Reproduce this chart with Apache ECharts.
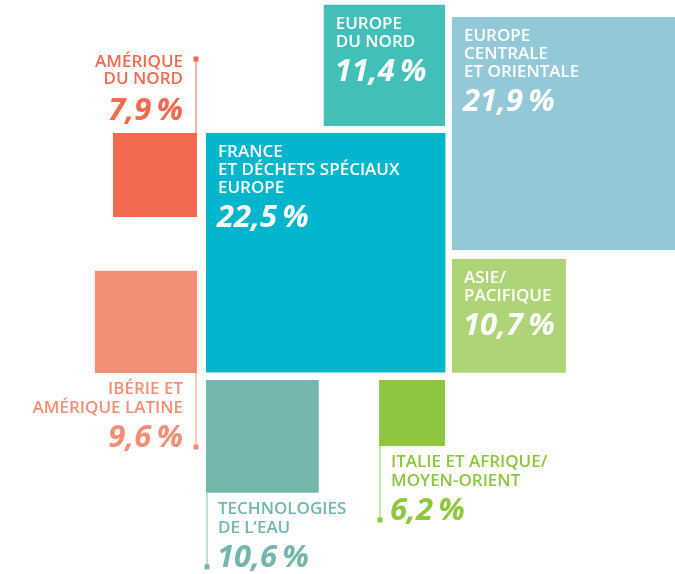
<!DOCTYPE html>
<html>
<head>
<meta charset="utf-8">
<script src="https://cdn.jsdelivr.net/npm/echarts@6/dist/echarts.min.js"></script>
<style>
  html, body { margin: 0; padding: 0; background: #fff; }
  #main { width: 675px; height: 574px; }
</style>
</head>
<body>
<div id="main"></div>
<script>
// activity shares (%) by region
var regions = [
  'FRANCE\nET DÉCHETS SPÉCIAUX\nEUROPE',
  'EUROPE\nDU NORD',
  'EUROPE\nCENTRALE\nET ORIENTALE',
  'ASIE/\nPACIFIQUE',
  'AMÉRIQUE\nDU NORD',
  'IBÉRIE ET\nAMÉRIQUE LATINE',
  'TECHNOLOGIES\nDE L’EAU',
  'ITALIE ET AFRIQUE/\nMOYEN-ORIENT'
];
var shares = [22.5, 11.4, 21.9, 10.7, 7.9, 9.6, 10.6, 6.2];

var colors = ['#00b5cc', '#43bfb9', '#93c8d8', '#afd478', '#f26a50', '#f48f77', '#74b6ad', '#8dc63f'];
var leaderColors = [null, null, null, null, '#f4957f', '#f7b3a3', '#a8d2cc', '#b9dc8c'];

// square side grows linearly with the share
var UNIT = 10.64;
// corner of each square pinned around the central block, and where its label goes
var layout = [
  { corner: 'tl', at: [206, 133], label: 'inside' },
  { corner: 'br', at: [445, 126], label: 'inside' },
  { corner: 'bl', at: [452, 250], label: 'inside' },
  { corner: 'tl', at: [452, 259], label: 'inside' },
  { corner: 'tr', at: [197, 133], label: 'above' },
  { corner: 'br', at: [197, 373], label: 'below', side: 'right' },
  { corner: 'tl', at: [206, 380], label: 'below', side: 'left' },
  { corner: 'tr', at: [445, 380], label: 'below', side: 'left' }
];

function pct(v) {
  return v.toFixed(1).replace('.', ',') + '\u2009%';
}

function textEl(x, y, str, color, align, big) {
  return {
    type: 'text',
    style: {
      x: x, y: y, text: str, fill: color,
      align: align, verticalAlign: 'middle',
      fontFamily: '"Open Sans", sans-serif',
      fontSize: big ? 31 : 17,
      fontWeight: big ? 'bold' : 600,
      fontStyle: big ? 'italic' : 'normal'
    }
  };
}

var chart = echarts.init(document.getElementById('main'));

chart.setOption({
  animation: false,
  grid: { left: 0, right: 0, top: 0, bottom: 0 },
  xAxis: { type: 'value', min: 0, max: 675, show: false },
  yAxis: { type: 'value', min: 0, max: 574, inverse: true, show: false },
  series: [{
    type: 'custom',
    clip: false,
    data: shares.map(function (v, i) { return [v, i]; }),
    renderItem: function (params, api) {
      var i = api.value(1);
      var L = layout[i];
      var p = api.coord(L.at);
      var s = api.size([api.value(0) * UNIT, 0])[0];
      var x = L.corner[1] === 'l' ? p[0] : p[0] - s;
      var y = L.corner[0] === 't' ? p[1] : p[1] - s;
      var lines = regions[i].split('\n');
      var kids = [{
        type: 'rect',
        shape: { x: x, y: y, width: s, height: s },
        style: { fill: colors[i] }
      }];
      var k, ty;

      if (L.label === 'inside') {
        for (k = 0; k < lines.length; k++) {
          kids.push(textEl(x + 12, y + 19 + k * 18, lines[k], '#fff', 'left', false));
        }
        ty = y + 19 + (lines.length - 1) * 18 + 30;
        kids.push(textEl(x + 11, ty, pct(api.value(0)), '#fff', 'left', true));
      } else {
        var len = 74;
        var lx, y0, y1, tx, align;
        if (L.label === 'above') {
          lx = x + s - 1; y0 = y; y1 = y - len;
          tx = lx - 13; align = 'right';
          var py = y - 22;
          kids.push(textEl(tx, py, pct(api.value(0)), colors[i], align, true));
          for (k = 0; k < lines.length; k++) {
            ty = py - 32 - (lines.length - 1 - k) * 17;
            kids.push(textEl(tx, ty, lines[k], colors[i], align, false));
          }
        } else {
          lx = L.side === 'right' ? x + s - 1 : x + 1;
          y0 = y + s; y1 = y + s + len;
          tx = L.side === 'right' ? lx - 13 : lx + 11;
          align = L.side === 'right' ? 'right' : 'left';
          for (k = 0; k < lines.length; k++) {
            kids.push(textEl(tx, y0 + 16 + k * 19, lines[k], colors[i], align, false));
          }
          kids.push(textEl(align === 'left' ? tx - 1 : tx, y0 + 16 + (lines.length - 1) * 19 + 30,
            pct(api.value(0)), colors[i], align, true));
        }
        kids.push({
          type: 'line',
          shape: { x1: lx, y1: y0, x2: lx, y2: y1 },
          style: { stroke: leaderColors[i], lineWidth: 1.5 }
        });
        kids.push({
          type: 'rect',
          shape: { x: lx - 2.5, y: y1 - 2.5, width: 5, height: 5 },
          style: { fill: colors[i] }
        });
      }
      return { type: 'group', children: kids };
    }
  }]
});
</script>
</body>
</html>
